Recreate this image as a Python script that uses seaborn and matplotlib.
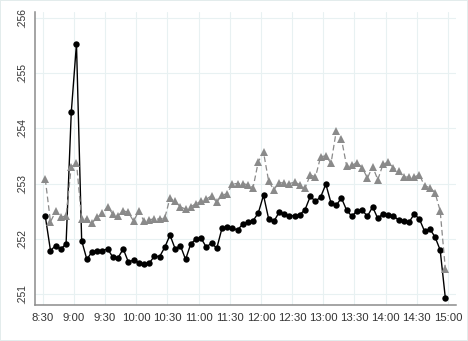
import matplotlib
matplotlib.use("Agg")
import matplotlib.pyplot as plt
import seaborn as sns
import numpy as np
import pandas as pd

# 5-minute bins from 8:30 to 15:00, plotted at bin midpoints (minutes since midnight)
bin_start = [510 + 5 * i for i in range(78)]
time_min = [t + 2.5 for t in bin_start]

series_black = [
    .25241, .25179, .25188, .25182, .25191, .25429, .25553, .25197, .25163, .25177,
    .25178, .25179, .25182, .25167, .25166, .25182, .25158, .25162, .25157, .25154,
    .25156, .25169, .25168, .25185, .25207, .25182, .25188, .25163, .25191, .25200,
    .25201, .25185, .25193, .25183, .25219, .25221, .25220, .25216, .25227, .25230,
    .25233, .25247, .25279, .25236, .25232, .25248, .25245, .25242, .25242, .25244,
    .25253, .25277, .25268, .25276, .25299, .25265, .25261, .25274, .25252, .25241,
    .25251, .25252, .25241, .25258, .25237, .25246, .25243, .25242, .25234, .25233,
    .25230, .25245, .25236, .25214, .25218, .25204, .25180, .25093,
]

series_gray = [
    .25308, .25231, .25250, .25239, .25242, .25331, .25338, .25236, .25236, .25229,
    .25239, .25247, .25258, .25245, .25242, .25251, .25248, .25232, .25251, .25232,
    .25235, .25236, .25236, .25238, .25274, .25268, .25258, .25254, .25258, .25264,
    .25268, .25272, .25278, .25266, .25280, .25281, .25300, .25300, .25300, .25298,
    .25293, .25340, .25357, .25304, .25289, .25302, .25301, .25300, .25303, .25298,
    .25292, .25316, .25312, .25349, .25350, .25337, .25395, .25381, .25332, .25333,
    .25338, .25329, .25310, .25331, .25307, .25335, .25339, .25329, .25322, .25312,
    .25312, .25312, .25316, .25296, .25293, .25284, .25251, .25146,
]

xtick_pos = [510 + 30 * k for k in range(14)]
xtick_labels = ["8:30", "9:00", "9:30", "10:00", "10:30", "11:00", "11:30",
                "12:00", "12:30", "13:00", "13:30", "14:00", "14:30", "15:00"]
ytick_pos = [.251, .252, .253, .254, .255, .256]
ytick_labels = [".251", ".252", ".253", ".254", ".255", ".256"]

sns.set_style("white")
plt.rcParams["font.family"] = ["Liberation Sans", "DejaVu Sans"]

df = pd.DataFrame({"t": time_min, "black": series_black, "gray": series_gray})

fig = plt.figure(figsize=(4.68, 3.41), dpi=100)
fig.patch.set_facecolor("white")
fig.patch.set_edgecolor("#e3ecec")
fig.patch.set_linewidth(1.2)
ax = fig.add_axes([0.0748, 0.1047, 0.899, 0.861])

grid_c = "#e8f1f2"
for xv in xtick_pos:
    ax.axvline(xv, color=grid_c, lw=0.8, zorder=0)
for yv in ytick_pos:
    ax.axhline(yv, color=grid_c, lw=0.8, zorder=0)

sns.lineplot(data=df, x="t", y="black", ax=ax, color="black", linewidth=1.0,
             marker="o", markersize=4.6, markeredgewidth=0, zorder=3)
sns.lineplot(data=df, x="t", y="gray", ax=ax, color="#8a8a8a", linewidth=0.9,
             linestyle=(0, (4.5, 2.5)), marker="^", markersize=5.2,
             markeredgewidth=0, zorder=4)

ax.set_xlim(502.6, 907.5)
ax.set_ylim(.25080, .25611)
ax.set_xticks(xtick_pos)
ax.set_xticklabels(xtick_labels, fontsize=8.2, color="#333333")
ax.set_yticks(ytick_pos)
ax.set_yticklabels(ytick_labels, fontsize=7.4, color="#333333", rotation=90,
                   va="center")
ax.set_xlabel("")
ax.set_ylabel("")

for s in ["top", "right"]:
    ax.spines[s].set_visible(False)
for s in ["left", "bottom"]:
    ax.spines[s].set_color("#8c8c8c")
    ax.spines[s].set_linewidth(1.1)

ax.tick_params(axis="x", direction="out", length=3.2, width=0.9, color="#8c8c8c", pad=2)
ax.tick_params(axis="y", direction="out", length=3.6, width=0.9, color="#8c8c8c", pad=2)
ax.set_facecolor("white")

fig.savefig("out.png", dpi=100, facecolor=fig.get_facecolor(),
            edgecolor=fig.get_edgecolor())
